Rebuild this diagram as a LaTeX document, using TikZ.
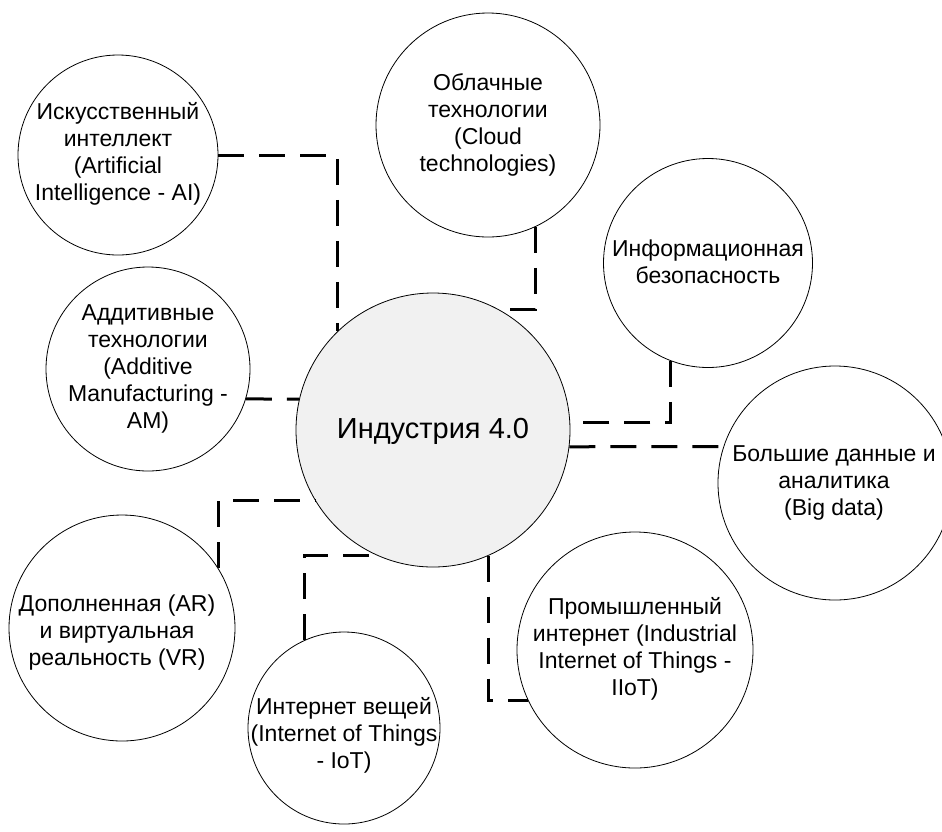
\documentclass[tikz,border=0pt]{standalone}
\usepackage{fontspec}
\setmainfont{Liberation Sans}
\tikzset{
    every picture/.style={
        line width=0.8pt
    },
    % Style for the circles round the hub
    topic/.style={
        circle, draw, fill=white, inner sep=0pt
    },
    % Style for the texts in the circles
    topic text/.style={
        font=\fontsize{23}{27}\selectfont,
        align=center
    },
    link/.style={line width=3pt, dash pattern=on 26pt off 15pt}
}
\definecolor{hubArea}{RGB}{241,241,241}

\begin{document}
\begin{tikzpicture}[x=1pt,y=-1pt]

% Set the canvas size
\path[use as bounding box] (0,0) rectangle (942,831);

% Hub in the middle
\node[topic, fill=hubArea, minimum size=274pt] (hub) at (433,430) {};
\node[font=\fontsize{29}{33}\selectfont] (hub-text) at (433,431) {Индустрия 4.0};

% Circles round the hub
\node[topic, minimum size=200pt] (ai) at (118,155) {};
\node[topic text] (ai-text) at (118,154) {Искусственный\\интеллект\\(Artificial\\Intelligence - AI)};

\node[topic, minimum size=224pt] (cloud) at (488,125) {};
\node[topic text] (cloud-text) at (488,125) {Облачные\\технологии\\(Cloud\\technologies)};

\node[topic, minimum size=209pt] (info) at (708,263) {};
\node[topic text] (info-text) at (708,262) {Информационная\\безопасность};

\node[topic, minimum size=204pt] (am) at (148,369) {};
\node[topic text] (am-text) at (148,369) {Аддитивные\\технологии\\(Additive\\Manufacturing -\\AM)};

\node[topic, minimum size=234pt] (bigdata) at (835,483) {};
\node[topic text] (bigdata-text) at (834,483) {Большие данные и\\аналитика\\(Big data)};

\node[topic, minimum size=226pt] (arvr) at (122,628) {};
\node[topic text] (arvr-text) at (117,633) {Дополненная (AR)\\и виртуальная\\реальность (VR)};

\node[topic, minimum size=236pt] (iiot) at (635,650) {};
\node[topic text] (iiot-text) at (635,649) {Промышленный\\интернет (Industrial\\Internet of Things -\\IIoT)};

\node[topic, minimum size=192pt] (iot) at (344,728) {};
\node[topic text] (iot-text) at (344,735) {Интернет вещей\\(Internet of Things\\- IoT)};

% Dashed links to the hub
\draw[link] (ai.east) -| (hub.134);
\draw[link] (cloud.-65) |- (hub.61);
\draw[link] (am.-17) -- (hub.167);
\draw[link] (info.-111) |- (hub.3);
\draw[link] (hub.-7) -- (bigdata.162);
\draw[link] (arvr.32) |- (hub.211);
\draw[link] (iot.114) |- (hub.246);
\draw[link] (hub.-66) |- (iiot.205);

\end{tikzpicture}
\end{document}
